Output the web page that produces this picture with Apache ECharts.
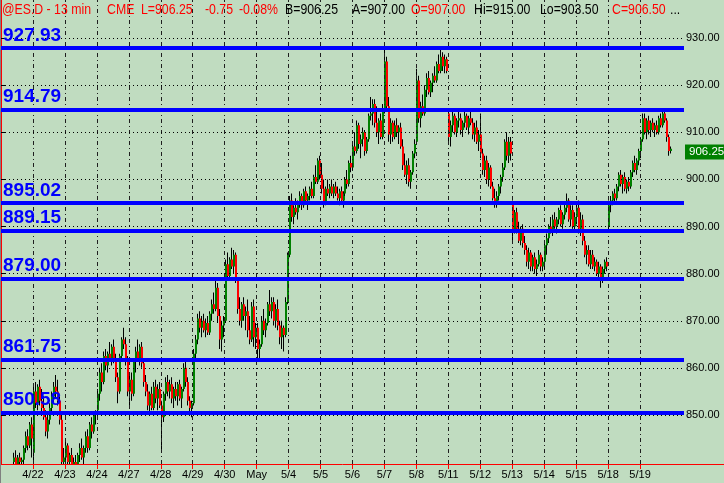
<!DOCTYPE html>
<html><head><meta charset="utf-8">
<script src="https://cdn.jsdelivr.net/npm/echarts@6/dist/echarts.min.js"></script>
<style>html,body{margin:0;padding:0;background:#C0DCC0;}#c{width:724px;height:483px;}</style>
</head><body><div id="c"></div>
<script>
// ---- data ----
const dayLabels = ['4/21','4/22','4/23','4/24','4/27','4/28','4/29','4/30','May','5/4','5/5','5/6','5/7','5/8','5/11','5/12','5/13','5/14','5/15','5/18','5/19'];
const barsPerDay = 16;
const slotCount = 342;
const levels = [927.93, 914.79, 895.02, 889.15, 879.00, 861.75, 850.58];
const priceTicks = [850, 860, 870, 880, 890, 900, 910, 920, 930];
const lastPrice = 906.25;
const headerTexts = ['@ES.D - 13 min', 'CME', 'L=906.25', '-0.75', '-0.08%', 'B=906.25', 'A=907.00', 'O=907.00', 'Hi=915.00', 'Lo=903.50', 'C=906.50', '...'];
// [open, high, low, close], 16 bars per session
const ohlc = [
// 4/21
null,null,null,null,null,null,
[840,842,838,841],[841,842.5,839,839.5],[839.5,841.5,838.5,841],[841,842,839,840],[840,841,838,840.5],
[840.5,843.5,839.5,843],[843,846.5,842,845.5],[845.5,847,842.5,843.5],[843.5,848.5,843,848],[848,849.5,841,845],
// 4/22
[842,856,840,855],[855,857,851.5,852.5],[852.5,856.5,851,856],[856,857.5,852,853],[853,855.5,850.5,851.5],
[851.5,854,849,849.5],[849.5,851,845.5,846.5],[846.5,850,845,849],[849,852.5,848,851.5],[851.5,855,850.5,854],
[854,857,852.5,856],[856,858.5,853.5,855],[855,857.5,852,853],[853,854,848,849],[849,850,839,840],[840,843,838,841],
// 4/23
[841,844.5,838.5,843.5],[843.5,844,839,840],[840,842,838,841.5],[841.5,843,839,839.5],[839.5,841,837.5,840],
[840,841.5,838,839],[839,842,838,841.5],[841.5,844,840,843],[843,845,840.5,841],[841,843.5,839,843],
[843,846.5,842,845.5],[845.5,847,842,843],[843,848.5,842.5,848],[848,849.5,845,846.5],[846.5,850.5,846,850],[850,851,848,850.5],
// 4/24
[851,855.5,850.5,854.5],[854.5,860,853,859],[859,861,855,857],[857,863.5,856.5,862.5],[862.5,864,859.5,860.5],
[860.5,863.5,859,863],[863,865.5,861.5,862],[862,865,860.5,864.5],[864.5,866,861,861.5],[861.5,863,857,858],
[858,859,852.5,855],[855,863,854.5,862.5],[862.5,866.5,861.5,866],[866,868.5,864,865],[865,866.5,860.5,861.5],[861.5,862.5,854,855],
// 4/27
[855,858.5,852,857.5],[857.5,859,853,854.5],[854.5,862,854,861.5],[861.5,864.5,859,863.5],[863.5,866,861.5,862],
[862,865,860.5,864.5],[864.5,865.5,860,861],[861,862,856,857],[857,858.5,854,855],[855,856.5,851,852],
[852,855,850.5,854.5],[854.5,856,851,851.5],[851.5,857,851,856],[856,857.5,852.5,853.5],[853.5,856.5,851,855.5],[855.5,857,851.5,852],
// 4/28
[852,853,842.5,849.5],[849.5,855,848.5,854.5],[854.5,858,853,857],[857,858.5,854,855],[855,857.5,853.5,856.5],
[856.5,858,852.5,853.5],[853.5,856,851.5,855.5],[855.5,857,853,854],[854,857,852,856.5],[856.5,857.5,853,853.5],
[853.5,856,851.5,855.5],[855.5,861,855,860],[860,861.5,856,857],[857,858,852,853],[853,854,850.5,851.5],[851.5,853,849.5,852.5],
// 4/29
[852.5,864,852,863],[863,867,861.5,866],[866,871.5,865,870.5],[870.5,872,867.5,868.5],[868.5,871,866.5,870],
[870,871.5,867.5,868],[868,870.5,866.5,869.5],[869.5,871,867,867.5],[867.5,872,867,871.5],[871.5,874.5,870,873.5],
[873.5,876,871.5,872.5],[872.5,878.5,872,877],[877,878,869.5,871],[871,872.5,864,866],[866,870,863.5,869],[869,871,866.5,870],
// 4/30
[870,883,869.5,882],[882,884.5,878.5,879.5],[879.5,883.5,879,883],[883,885.5,881,881.5],[881.5,885,880,884],
[884,884.5,878,878.5],[878.5,879,871.5,872.5],[872.5,875,869,870],[870,874,868.5,873.5],[873.5,875,870,871],
[871,873,868,872],[872,874.5,866.5,868],[868,871,865,866],[866,874,865.5,873],[873,874.5,864.5,866.5],[866.5,869.5,864,868.5],
// May 1
[868.5,869.5,862,864],[864,866,862,865],[865,871,864.5,870],[870,872.5,867,868],[868,870.5,866.5,869.5],
[869.5,874,869,873.5],[873.5,876.5,871,872],[872,875,870.5,874],[874,875,869,870],[870,873.5,868.5,872.5],
[872.5,874.5,868,869],[869,870,865,866.5],[866.5,870,864,868.5],[868.5,869,863.5,867],[867,875,866.5,874],[874,884.5,873.5,884],
// 5/4
[884,896.5,883.5,895.5],[895.5,897,891,892],[892,894.5,890.5,894],[894,896,892.5,893],[893,895.5,891.5,895],
[895,897.5,894,896.5],[896.5,897,893.5,894.5],[894.5,898,894,897.5],[897.5,898.5,895,895.5],[895.5,897,893.5,896.5],
[896.5,898.5,895.5,898],[898,899.5,896,896.5],[896.5,901,896,900.5],[900.5,903,899,899.5],[899.5,904.5,899,904],[904,905,900,901],
// 5/5
[901,903.5,897,898],[898,900,894,895],[895,898.5,894.5,898],[898,900,896.5,897],[897,899,896,898.5],
[898.5,900,896.5,897],[897,899,896,898.5],[898.5,899.5,896.5,897],[897,898.5,895.5,896],[896,898,894.5,897.5],
[897.5,898.5,895,895.5],[895.5,897.5,894,897],[897,900.5,896.5,900],[900,902,898,899],[899,904,898.5,903.5],[903.5,905,901.5,902.5],
// 5/6
[902.5,907.5,902,907],[907,910,905,906],[906,912.5,905.5,911.5],[911.5,912,906.5,907.5],[907.5,909.5,904.5,908.5],
[908.5,911,907,910],[910,910.5,905,906],[906,909,905.5,908.5],[908.5,914,908,913.5],[913.5,917.5,912.5,914],
[914,917,911.5,916],[916,917,911,912],[912,915.5,909,910],[910,913,907.5,912.5],[912.5,914,908.5,909],[909,916,908.5,915],
// 5/7
[915,927.5,914,925],[925,926,914.5,915.5],[915.5,917.5,908,909.5],[909.5,913,907.5,912],[912,912.5,908,909],
[909,912.5,908.5,911.5],[911.5,913,909,910],[910,911.5,907.5,911],[911,912,906.5,907],[907,908.5,902,903],
[903,905.5,900.5,901],[901,904,899,903],[903,904.5,898.5,899.5],[899.5,902,898,901.5],[901.5,906,901,905.5],[905.5,908.5,904.5,907.5],
// 5/8
[908,923.5,907.5,921],[921,922,912,913],[913,916.5,911,915.5],[915.5,918,913.5,914],[914,920,913.5,919],
[919,922.5,917.5,921.5],[921.5,923,918,918.5],[918.5,921,917.5,920.5],[920.5,922.5,918.5,922],[922,924,920.5,921],
[921,925,920.5,924.5],[924.5,926.5,922.5,923],[923,928,922.5,926],[926,927,923,924],[924,926.5,922.5,925.5],[925.5,926,922.5,923],
// 5/11
[914,915,908,909],[909,912.5,907,911.5],[911.5,914.5,910,913.5],[913.5,914,909.5,910],[910,913,909,912.5],
[912.5,914.5,911,913],[913,914,909.5,910.5],[910.5,912.5,909,912],[912,914.5,911,913.5],[913.5,914,910.5,911],
[911,913.5,909.5,913],[913,914.5,911.5,912],[912,913,908.5,909.5],[909.5,912,908,911],[911,912.5,907.5,908],[908,910.5,906,909.5],
// 5/12
[909.5,914,904.5,905.5],[905.5,906.5,901,902],[902,905,900.5,904],[904,905,899,900],[900,903.5,898.5,902.5],
[902.5,903,898,898.5],[898.5,899.5,895.5,896],[896,898,894,895],[895,897.5,894,896.5],[896.5,899,895.5,898.5],
[898.5,901,897,900.5],[900.5,903.5,899.5,902.5],[902.5,908.5,902,908],[908,910,904,905],[905,909,903.5,908],[908,909,904,905.5],
// 5/13
[895,895.5,887,889],[889,893.5,888.5,893],[893,894,888.5,889.5],[889.5,891,886.5,887],[887,890,886,889.5],
[889.5,890.5,885.5,886.5],[886.5,888,884,885],[885,886,881.5,882.5],[882.5,885.5,881,884.5],[884.5,885,880.5,881.5],
[881.5,884,880.5,883.5],[883.5,884.5,880,881],[881,883,879.5,882],[882,885,881.5,884],[884,884.5,880.5,881.5],[881.5,883.5,880.5,882.5],
// 5/14
[882.5,886.5,881,886],[886,888.5,884,887.5],[887.5,890.5,886.5,890],[890,892,888.5,889],[889,892.5,888,891.5],
[891.5,893,889.5,890],[890,892,888.5,891.5],[891.5,894,890.5,893.5],[893.5,894.5,890,890.5],[890.5,893,889.5,892.5],
[892.5,895,891.5,894],[894,897,893,895.5],[895.5,896,891,891.5],[891.5,894.5,890,893.5],[893.5,894.5,889.5,890],[890,893,889,892],
// 5/15
[892,895,890.5,894],[894,895.5,888.5,889.5],[889.5,893,888,891.5],[891.5,892.5,886,887],[887,888,883.5,884],
[884,886,882,885],[885,886,881.5,882],[882,885,881,884],[884,885,881,881.5],[881.5,883.5,880.5,882.5],
[882.5,883,879.5,880],[880,882.5,879,881.5],[881.5,882,877,878.5],[878.5,881.5,878,881],[881,883,880,882.5],[882.5,883.5,880.5,881.5],
// 5/18
[890,895.5,889,894.5],[894.5,896.5,893,895.5],[895.5,897.5,894.5,897],[897,898,895,896],[896,899,895.5,898.5],
[898.5,901.5,897.5,901],[901,902,898.5,899],[899,901,897,900.5],[900.5,901.5,897.5,898],[898,900,897,899.5],
[899.5,900.5,897.5,898.5],[898.5,902,898,901.5],[901.5,904,900.5,903.5],[903.5,905,901.5,902],[902,904.5,901,904],[904,906.5,903,906],
// 5/19
[906,909,904.5,908.5],[908.5,914,908,913],[913,914,909.5,910],[910,913,908.5,912.5],[912.5,913.5,909.5,910.5],
[910.5,912.5,909,912],[912,913,910,910.5],[910.5,912,909,911.5],[911.5,912.5,909.5,910],[910,913.5,909.5,913],
[913,914,911,911.5],[911.5,914.5,911,914],[914,915,912,912.5],[912.5,913,908,909],[909,909.5,905,906],[906,907,905.5,906.5]
];

// ---- build ----
const SANS = '"Liberation Sans", Arial, sans-serif';
const barData = [];
ohlc.forEach((b, i) => { if (b) barData.push([i, b[0], b[1], b[2], b[3]]); });
const dayTicks = dayLabels.map((d, k) => k * barsPerDay).filter(v => v > 0);

function renderBar(params, api) {
  const i = api.value(0);
  const o = api.value(1), h = api.value(2), l = api.value(3), c = api.value(4);
  const cs = params.coordSys;
  const top = cs.y, bot = cs.y + cs.height;
  const clampY = y => Math.max(top, Math.min(bot, y));
  const px = Math.floor(api.coord([i, 900])[0] + 0.5);
  const yH = clampY(api.coord([i, h])[1]), yL = clampY(api.coord([i, l])[1]);
  let y1 = clampY(Math.min(api.coord([i, o])[1], api.coord([i, c])[1]));
  let y2 = clampY(Math.max(api.coord([i, o])[1], api.coord([i, c])[1]));
  if (y2 - y1 < 1.5) { y1 -= 0.75; y2 += 0.75; }
  const children = [];
  if (yL > yH) children.push({ type: 'rect', shape: { x: px, y: yH, width: 1, height: Math.max(1, yL - yH) }, style: { fill: '#000000' } });
  if (y2 > y1 && y1 < bot) children.push({ type: 'rect', shape: { x: px, y: y1, width: 2, height: y2 - y1 }, style: { fill: c >= o ? '#008000' : '#FF0000' } });
  return { type: 'group', children: children };
}

const headerX = [2, 107, 141, 205, 239, 285, 352, 411, 474, 540, 612, 670];
const headerColor = ['#FF0000', '#FF0000', '#FF0000', '#FF0000', '#FF0000', '#000000', '#000000', '#FF0000', '#000000', '#000000', '#FF0000', '#000000'];
const NOLINE = { color: 'rgba(0,0,0,0)', width: 0 };

const chart = echarts.init(document.getElementById('c'), null, { renderer: 'canvas' });
chart.setOption({
  backgroundColor: '#C0DCC0',
  animation: false,
  grid: { left: 1, right: 40, top: 0, bottom: 19, containLabel: false, outerBoundsMode: 'none' },
  xAxis: {
    type: 'value', min: 0, max: slotCount,
    axisLine: { show: true, lineStyle: { color: '#FF0000', width: 1 } },
    axisTick: { show: true, customValues: dayTicks, length: 5, lineStyle: { color: '#FF0000' } },
    axisLabel: { customValues: dayTicks, margin: 5, color: '#000', fontSize: 11, fontFamily: SANS,
      formatter: v => dayLabels[Math.round(v / barsPerDay)] || '' },
    splitLine: { show: false }
  },
  yAxis: {
    type: 'value', position: 'right', min: 839.6, max: 938.07,
    axisLine: { show: true, lineStyle: { color: '#FF0000', width: 1 } },
    axisTick: { show: true, customValues: priceTicks, length: 4, lineStyle: { color: '#000' } },
    axisLabel: { customValues: priceTicks, margin: 2, color: '#000', fontSize: 11, fontFamily: SANS,
      formatter: v => v.toFixed(2) },
    splitLine: { show: false }
  },
  series: [
    { // grid lines
      type: 'line', data: [], z: 1, silent: true,
      markLine: {
        silent: true, symbol: 'none', animation: false, label: { show: false },
        data: dayTicks.map(v => ({ xAxis: v, lineStyle: { color: '#1e1e1e', type: [4, 3, 1, 3], width: 1 } }))
          .concat(priceTicks.map(v => ({ yAxis: v, lineStyle: { color: '#000', type: [1, 3], width: 1 } })))
      }
    },
    { // level labels (beneath the bars)
      type: 'line', data: [], z: 2, silent: true,
      markLine: {
        silent: true, symbol: 'none', animation: false,
        lineStyle: NOLINE,
        label: { show: true, position: 'insideStartTop', distance: [2, 3], color: '#0000FF', fontWeight: 'bold',
          fontSize: 19, fontFamily: SANS, formatter: p => Number(p.value).toFixed(2) },
        data: levels.map(v => ({ yAxis: v }))
      }
    },
    { // price bars
      type: 'custom', z: 3, clip: false, renderItem: renderBar, data: barData,
      encode: { x: 0, y: [1, 2, 3, 4] }, silent: true
    },
    { // level lines
      type: 'line', data: [], z: 5, silent: true,
      markLine: {
        silent: true, symbol: 'none', animation: false,
        lineStyle: { color: '#0000FF', width: 4, type: 'solid' },
        label: { show: false },
        data: levels.map(v => ({ yAxis: v }))
      }
    },
    { // last price tag
      type: 'line', data: [], z: 6, silent: true,
      markLine: {
        silent: true, symbol: 'none', animation: false,
        lineStyle: NOLINE,
        label: { show: true, position: 'end', distance: 1, offset: [0, 2], color: '#FFFFFF', backgroundColor: '#008000',
          padding: [2, 4, 1, 4], fontSize: 11.5, fontFamily: SANS, formatter: p => Number(p.value).toFixed(2) },
        data: [{ yAxis: lastPrice }]
      }
    }
  ],
  graphic: headerTexts.map((t, k) => ({
    type: 'text', x: headerX[k], y: 2, scaleX: 0.82, z: 10,
    style: { text: t, fill: headerColor[k], fontSize: 15, fontFamily: SANS }
  })).concat([
    { type: 'line', shape: { x1: 0.5, y1: 0, x2: 0.5, y2: 483 }, style: { stroke: '#808080', lineWidth: 1 }, z: 10 },
    { type: 'line', shape: { x1: 684, y1: 464.5, x2: 724, y2: 464.5 }, style: { stroke: '#FF0000', lineWidth: 1 }, z: 10 }
  ])
});
</script></body></html>
